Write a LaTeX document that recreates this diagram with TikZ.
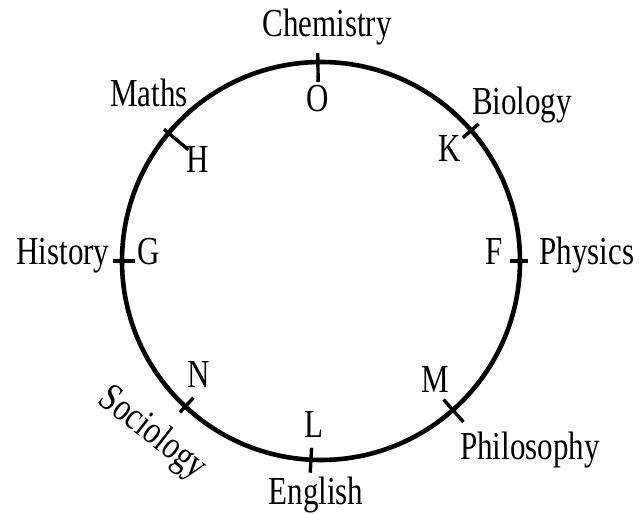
\documentclass[tikz,border=0pt]{standalone}
\usepackage{fontspec}
\setmainfont{Liberation Serif}
\usepackage{graphicx}
\newcommand{\tall}[1]{\scalebox{1}[1.28]{#1}}

\begin{document}
\begin{tikzpicture}[x=0.5pt, y=0.5pt,
  subject/.style={font=\fontsize{15.5}{18}\selectfont, inner sep=0pt,
                  anchor=base},
  letter/.style={subject},
  ring/.style={line width=2.3pt},
  notch/.style={line width=1.7pt}
]
\useasboundingbox (0,0) rectangle (639,514);
\coordinate (c) at (321,253);
\draw[ring] (c) circle[radius=199];
% notches: angle / inner radius / outer radius
\foreach \ang/\ri/\ro in {90.9/179/208, 140/173/205, 41/188/209,
    180/186/208, 0/189/207, -48.5/185/215, -133/187/207, -92.9/187/212}
  \draw[notch] ([shift={(\ang:\ri)}]c) -- ([shift={(\ang:\ro)}]c);

\node[subject] (chem) at (327,477) {\tall{Chemistry}};
\node[letter]  (o)    at (318,402) {\tall{O}};
\node[subject] (math) at (149,407) {\tall{Maths}};
\node[letter]  (h)    at (198,341) {\tall{H}};
\node[subject] (bio)  at (522,399) {\tall{Biology}};
\node[letter]  (k)    at (450,352) {\tall{K}};
\node[subject] (hist) at (63,249)  {\tall{History}};
\node[letter]  (g)    at (149,249) {\tall{G}};
\node[letter]  (f)    at (494,249) {\tall{F}};
\node[subject] (phys) at (587,249) {\tall{Physics}};
\node[letter]  (m)    at (435,121) {\tall{M}};
\node[subject] (phil) at (530,54)  {\tall{Philosophy}};
\node[letter]  (l)    at (314,76)  {\tall{L}};
\node[subject] (eng)  at (316,9)   {\tall{English}};
\node[letter]  (n)    at (199,126) {\tall{N}};
\node[subject, anchor=center, rotate=-38] (soc) at (152,80)
  {\tall{Sociology}};
\end{tikzpicture}
\end{document}
